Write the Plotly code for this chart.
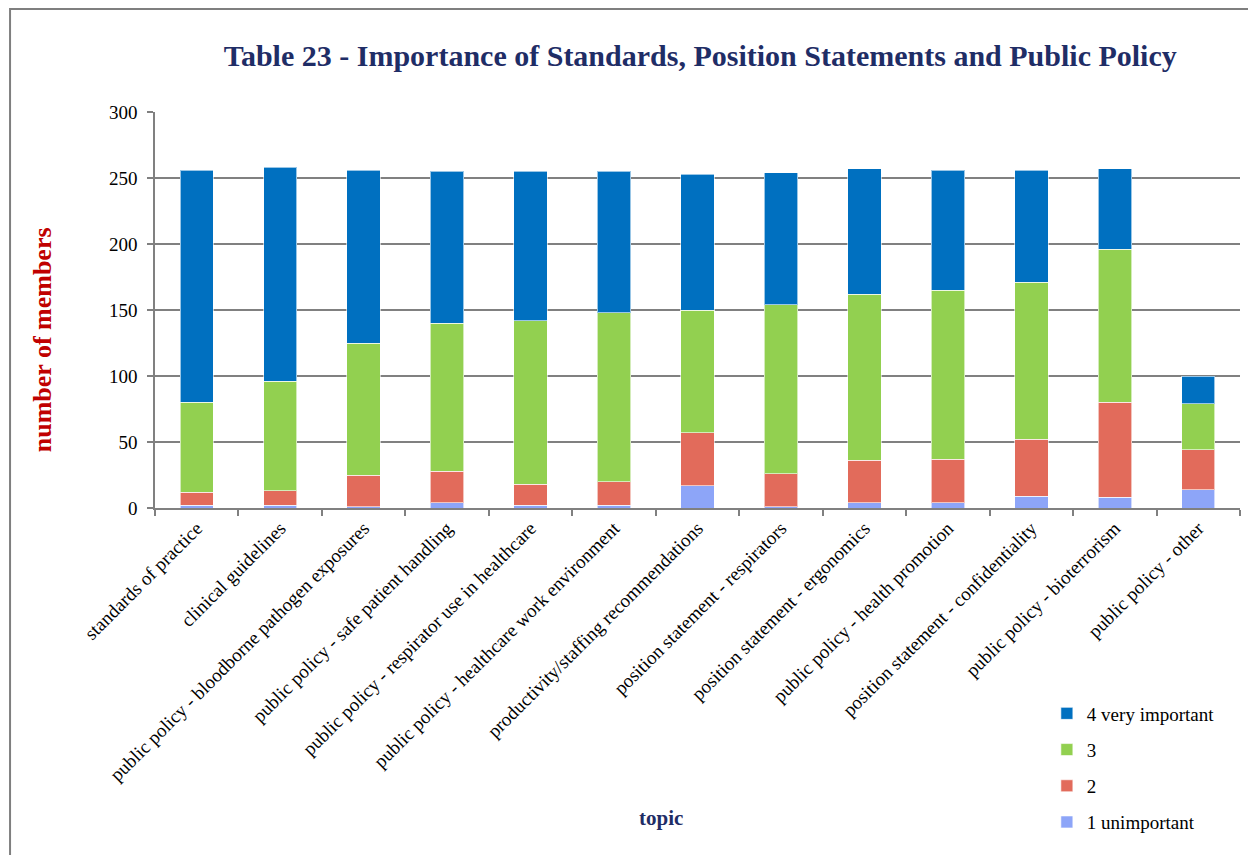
import plotly.graph_objects as go

topics = [
    "standards of practice",
    "clinical guidelines",
    "public policy - bloodborne pathogen exposures",
    "public policy - safe patient handling",
    "public policy - respirator use in healthcare",
    "public policy - healthcare work environment",
    "productivity/staffing recommendations",
    "position statement - respirators",
    "position statement - ergonomics",
    "public policy - health promotion",
    "position statement - confidentiality",
    "public policy - bioterrorism",
    "public policy - other",
]

unimportant_1 = [2, 2, 1, 4, 2, 2, 17, 1, 4, 4, 9, 8, 14]
rating_2 = [10, 11, 24, 24, 16, 18, 40, 25, 32, 33, 43, 72, 30]
rating_3 = [68, 83, 100, 112, 124, 128, 93, 128, 126, 128, 119, 116, 35]
very_important_4 = [176, 162, 131, 115, 113, 107, 103, 100, 95, 91, 85, 61, 21]

series = [
    ("1 unimportant", unimportant_1, "#8DA5F8"),
    ("2", rating_2, "#E26B5B"),
    ("3", rating_3, "#92D050"),
    ("4 very important", very_important_4, "#0070C0"),
]

font_family = "Liberation Serif, DejaVu Serif, serif"

fig = go.Figure()
for i, (name, vals, color) in enumerate(series):
    fig.add_trace(go.Bar(
        name=name, x=topics, y=vals, legendgroup=name,
        legendrank=1000 - i,  # top of the stack first in the legend
        marker=dict(color=color, line=dict(color="rgba(255,255,255,0.6)", width=1)),
    ))

fig.update_layout(
    barmode="stack",
    bargap=0.6,
    width=1248, height=847,
    margin=dict(l=147, r=16, t=104, b=347, autoexpand=False),
    plot_bgcolor="white", paper_bgcolor="white",
    font=dict(family=font_family, size=16, color="black"),
    title=dict(
        text="<b>Table 23 - Importance of Standards, Position Statements and Public Policy</b>",
        x=0.5025, xref="paper", xanchor="center",
        y=1 - 47 / 847, yref="container", yanchor="middle",
        font=dict(size=30, color="#1F2D66", family=font_family),
    ),
    legend=dict(
        x=0.822, y=-0.471, xanchor="left", yanchor="top",
        traceorder="grouped", tracegroupgap=8.5,
        font=dict(size=19), itemwidth=30,
    ),
    showlegend=True,
)

fig.update_yaxes(
    range=[0, 300], dtick=50,
    showgrid=True, gridcolor="#808080", gridwidth=1.5,
    showline=True, linecolor="#808080", linewidth=1.5,
    ticks="outside", ticklen=6, tickcolor="#808080", tickwidth=1.5,
    tickfont=dict(size=19), ticklabelstandoff=6, zeroline=False,
)
fig.update_xaxes(
    tickangle=-45, tickson="boundaries",
    showline=True, linecolor="#808080", linewidth=1.5,
    ticks="outside", ticklen=6, tickcolor="#808080", tickwidth=1.5,
    tickfont=dict(size=19),
)

# y axis title and x axis title placed as annotations
fig.add_annotation(
    text="<b>number of members</b>", textangle=-90,
    x=-0.104, y=0.424, xref="paper", yref="paper",
    xanchor="center", yanchor="middle",
    showarrow=False, font=dict(size=26, color="#C00000"),
)
fig.add_annotation(
    text="<b>topic</b>",
    x=0.466, y=-0.783, xref="paper", yref="paper",
    xanchor="center", yanchor="middle",
    showarrow=False, font=dict(size=21, color="#1F2D66"),
)

# chart frame
fig.add_shape(
    type="rect", xref="paper", yref="paper",
    x0=-0.1336, y0=-1.2, x1=1.2, y1=1.26,
    line=dict(color="#7F7F7F", width=2),
)

fig.write_html("out.html")
